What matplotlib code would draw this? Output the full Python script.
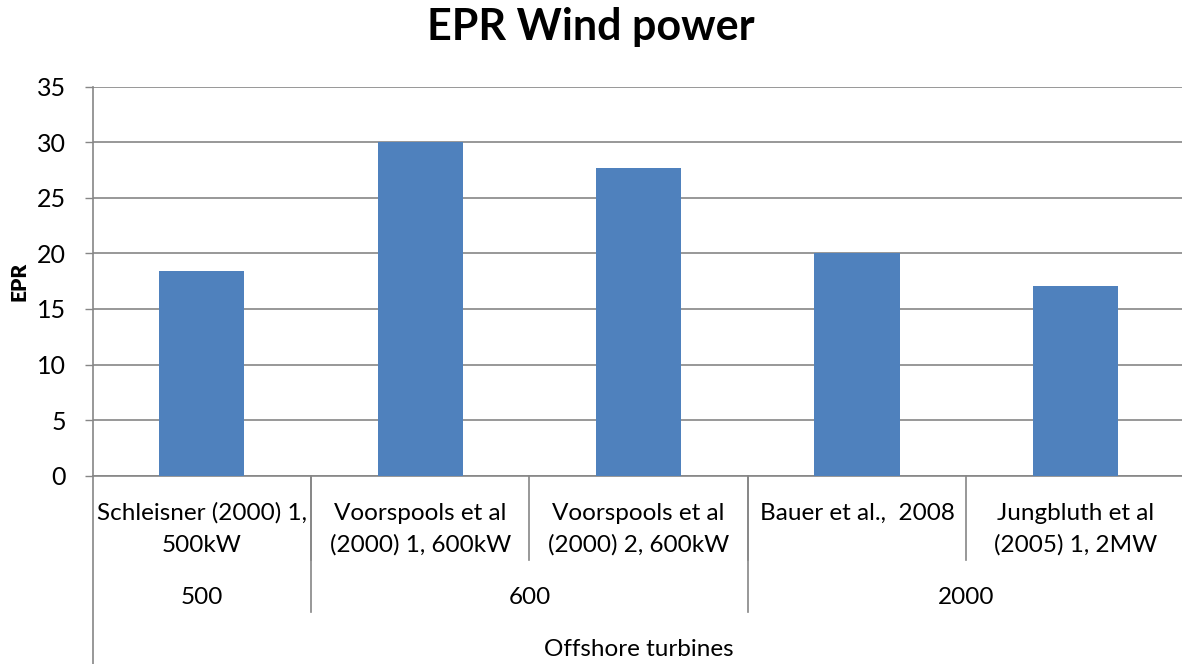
import matplotlib.pyplot as plt
from matplotlib.transforms import blended_transform_factory

# Data
studies = ["Schleisner (2000) 1,\n500kW", "Voorspools et al\n(2000) 1, 600kW",
           "Voorspools et al\n(2000) 2, 600kW", "Bauer et al.,  2008",
           "Jungbluth et al\n(2005) 1, 2MW"]
epr = [18.4, 30.0, 27.7, 20.0, 17.1]
sizes = ["500", "600", "2000"]
size_counts = [1, 2, 2]
group_label = "Offshore turbines"

plt.rcParams['font.family'] = ['Lato', 'DejaVu Sans']
grey = "#868686"

fig = plt.figure(figsize=(11.82, 6.64), dpi=100)
ax = fig.add_axes([0.0783, 0.2836, 0.924, 0.5858])

x = range(len(epr))
ax.bar(x, epr, width=0.39, color="#4F81BD", zorder=3)

ax.set_xlim(-0.5, len(epr) - 0.5)
ax.set_ylim(0, 35)
ax.set_yticks(range(0, 36, 5))
ax.tick_params(axis='y', labelsize=18, length=6, color=grey, width=1, pad=13)
ax.set_xticks([])
ax.grid(True, axis='y', color=grey, linewidth=1.2, zorder=0)
for s in ["top", "right"]:
    ax.spines[s].set_visible(False)
ax.spines["left"].set_color(grey)
ax.spines["bottom"].set_color(grey)
ax.spines["left"].set_linewidth(1.2)
ax.spines["bottom"].set_linewidth(1.2)

ax.set_ylabel("EPR", fontsize=15, fontweight="heavy", labelpad=6)
fig.suptitle("EPR Wind power", fontsize=31, fontweight="bold", y=0.99)

# Multi-level category axis
tr = blended_transform_factory(ax.transData, fig.transFigure)
top = 0.2836
ax.plot([-0.5, -0.5], [top, 0.0], transform=tr, color=grey, lw=1.2, clip_on=False)

line_y = [0.2274, 0.1792]
for i, name in enumerate(studies):
    for yy, line in zip(line_y, name.split("\n")):
        ax.text(i, yy, line, transform=tr, ha="center", va="center",
                fontsize=17.5)
    if i > 0:
        ax.plot([i - 0.5, i - 0.5], [top, 0.1566], transform=tr, color=grey,
                lw=1.2, clip_on=False)

start = 0
for label, n in zip(sizes, size_counts):
    ax.text(start + (n - 1) / 2, 0.1009, label, transform=tr, ha="center",
            va="center", fontsize=17.5)
    if start > 0:
        ax.plot([start - 0.5, start - 0.5], [top, 0.0788], transform=tr,
                color=grey, lw=1.2, clip_on=False)
    start += n

ax.text((len(epr) - 1) / 2, 0.0211, group_label, transform=tr, ha="center",
        va="center", fontsize=17.5)

fig.savefig("out.png", dpi=100)
